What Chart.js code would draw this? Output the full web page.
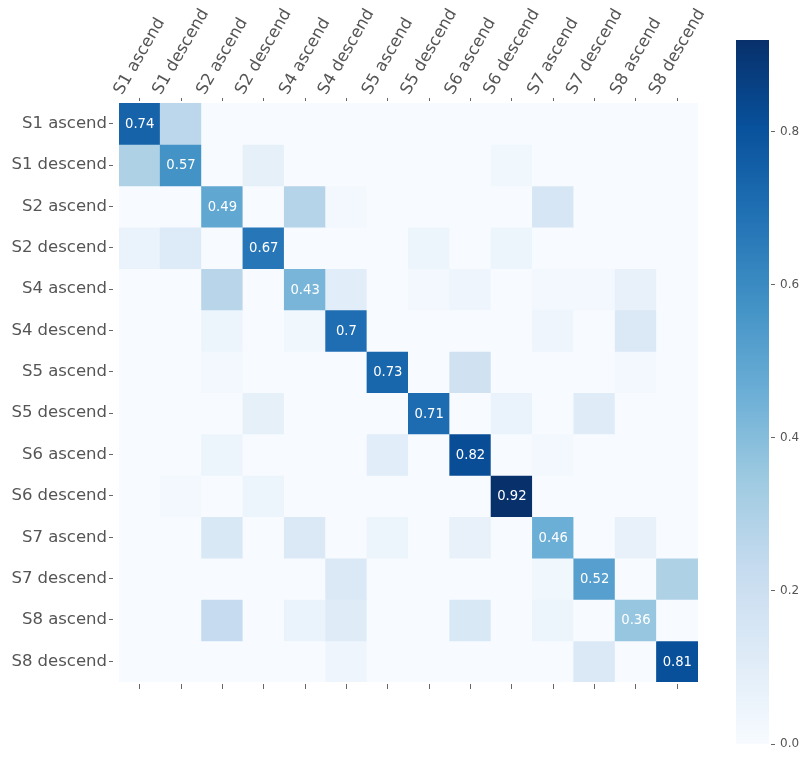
<!DOCTYPE html>
<html lang="en">
<head>
<meta charset="UTF-8">
<title>Confusion matrix</title>
<script src="https://cdn.jsdelivr.net/npm/chart.js"></script>
<style>
  body { margin: 0; background: #fff; }
  #wrap { position: relative; width: 803px; height: 759px; }
  #heatBox { position: absolute; left: 0; top: 0; width: 803px; height: 759px; }
  #barBox { position: absolute; left: 700px; top: 0; width: 103px; height: 759px; }
</style>
</head>
<body>
<div id="wrap">
  <div id="heatBox"><canvas id="heat"></canvas></div>
  <div id="barBox"><canvas id="cbar"></canvas></div>
</div>
<script>
// class names, used for both axes
const classes = ['S1 ascend', 'S1 descend', 'S2 ascend', 'S2 descend', 'S4 ascend', 'S4 descend',
  'S5 ascend', 'S5 descend', 'S6 ascend', 'S6 descend', 'S7 ascend', 'S7 descend', 'S8 ascend', 'S8 descend'];

// rows = true class, columns = predicted class
const matrix = [
  [0.74, 0.26, 0, 0, 0, 0, 0, 0, 0, 0, 0, 0, 0, 0],
  [0.30, 0.57, 0, 0.08, 0, 0, 0, 0, 0, 0.03, 0, 0, 0, 0],
  [0, 0, 0.49, 0, 0.28, 0.02, 0, 0, 0, 0, 0.15, 0, 0, 0],
  [0.06, 0.12, 0, 0.67, 0, 0, 0, 0.05, 0, 0.05, 0, 0, 0, 0],
  [0, 0, 0.27, 0, 0.43, 0.10, 0, 0.02, 0.04, 0, 0.02, 0.02, 0.07, 0],
  [0, 0, 0.05, 0, 0.03, 0.70, 0, 0, 0, 0, 0.04, 0, 0.13, 0],
  [0, 0, 0.02, 0, 0, 0, 0.73, 0, 0.18, 0, 0, 0, 0.02, 0],
  [0, 0, 0, 0.08, 0, 0, 0, 0.71, 0, 0.06, 0, 0.11, 0, 0],
  [0, 0, 0.05, 0, 0, 0, 0.10, 0, 0.82, 0, 0.02, 0, 0, 0],
  [0, 0.02, 0, 0.05, 0, 0, 0, 0, 0, 0.92, 0, 0, 0, 0],
  [0, 0, 0.14, 0, 0.13, 0, 0.05, 0, 0.07, 0, 0.46, 0, 0.07, 0],
  [0, 0, 0, 0, 0, 0.13, 0, 0, 0, 0, 0.03, 0.52, 0, 0.30],
  [0, 0, 0.23, 0, 0.06, 0.11, 0, 0, 0.14, 0, 0.05, 0, 0.36, 0],
  [0, 0, 0, 0, 0, 0.04, 0, 0, 0, 0, 0, 0.13, 0, 0.81]
];

const colorbarTicks = [0, 0.2, 0.4, 0.6, 0.8];
const annotateFrom = 0.35;   // only cells above this get a number
const vmax = Math.max(...matrix.flat());

// matplotlib "Blues"
const blues = [[247,251,255],[222,235,247],[198,219,239],[158,202,225],[107,174,214],
  [66,146,198],[33,113,181],[8,81,156],[8,48,107]];

function bluesColor(t) {
  t = Math.min(1, Math.max(0, t)) * (blues.length - 1);
  const i = Math.min(blues.length - 2, Math.floor(t));
  const f = t - i;
  const a = blues[i], b = blues[i + 1];
  const c = a.map((v, k) => Math.round(v + (b[k] - v) * f));
  return `rgb(${c[0]},${c[1]},${c[2]})`;
}

Chart.defaults.font.family = '"DejaVu Sans", sans-serif';
Chart.defaults.color = '#555';

const tickGrey = '#666';
const cellTicks = s => { s.ticks = classes.map((_, i) => ({ value: i })); };

// background for the matrix area
const areaFill = {
  id: 'areaFill',
  beforeDatasetsDraw(chart) {
    const {ctx, chartArea: a} = chart;
    ctx.save();
    ctx.fillStyle = bluesColor(0);
    ctx.fillRect(a.left, a.top, a.right - a.left, a.bottom - a.top);
    ctx.restore();
  }
};

// numbers in the cells
const cellText = {
  id: 'cellText',
  afterDatasetsDraw(chart) {
    const {ctx, scales: {x, y}} = chart;
    ctx.save();
    ctx.font = '13.2px "DejaVu Sans"';
    ctx.fillStyle = '#fff';
    ctx.textAlign = 'center';
    ctx.textBaseline = 'middle';
    matrix.forEach((row, r) => row.forEach((v, c) => {
      if (v >= annotateFrom) ctx.fillText(String(v), x.getPixelForValue(c), y.getPixelForValue(r) + 1);
    }));
    ctx.restore();
  }
};

// rotated top labels, centred on their ticks like matplotlib's ha='center'
const topLabels = {
  id: 'topLabels',
  afterDraw(chart) {
    const sc = chart.scales.x2;
    const ctx = chart.ctx;
    const ang = Math.PI / 3, lh = 19, base = sc.bottom - 5;
    ctx.save();
    ctx.font = '16.5px "DejaVu Sans"';
    ctx.fillStyle = '#555';
    ctx.textAlign = 'center';
    ctx.textBaseline = 'middle';
    classes.forEach((name, i) => {
      const w = ctx.measureText(name).width;
      const h = w * Math.sin(ang) + lh * Math.cos(ang);
      ctx.save();
      ctx.translate(sc.getPixelForValue(i), base - h / 2);
      ctx.rotate(-ang);
      ctx.fillText(name, 0, 0);
      ctx.restore();
    });
    ctx.restore();
  }
};

const datasets = classes.map((name, r) => ({
  label: name,
  data: matrix[r].map(() => [r - 0.5, r + 0.5]),
  backgroundColor: matrix[r].map(v => bluesColor(v / vmax)),
  borderWidth: 0,
  inflateAmount: 0.5,
  barPercentage: 1,
  categoryPercentage: 1,
  grouped: false
}));

new Chart(document.getElementById('heat'), {
  type: 'bar',
  data: { labels: classes, datasets: datasets },
  options: {
    responsive: true,
    maintainAspectRatio: false,
    animation: false,
    layout: { padding: { left: 0, right: 105, top: 0, bottom: 0 } },
    plugins: { legend: { display: false }, tooltip: { enabled: false } },
    scales: {
      x: {
        type: 'category',
        position: 'bottom',
        ticks: { display: false },
        grid: { drawOnChartArea: false, offset: false, tickLength: 7, tickColor: tickGrey,
                tickBorderDash: [5, 2], tickBorderDashOffset: 5 },
        border: { display: false },
        afterFit: s => { s.height = 77; }
      },
      // top axis only carries the tick marks, labels come from the topLabels plugin
      x2: {
        type: 'linear',
        position: 'top',
        offset: false,
        bounds: 'data',
        min: -0.5,
        max: classes.length - 0.5,
        afterBuildTicks: cellTicks,
        ticks: { display: false },
        grid: { drawOnChartArea: false, offset: false, tickLength: 5, tickColor: tickGrey, tickBorderDash: [3, 2] },
        border: { display: false },
        afterFit: s => { s.height = 103; }
      },
      y: {
        type: 'linear',
        bounds: 'data',
        reverse: true,
        min: -0.5,
        max: classes.length - 0.5,
        afterBuildTicks: cellTicks,
        ticks: { autoSkip: false, padding: 2, color: '#555', font: { size: 16.5 },
                 callback: v => classes[v] },
        grid: { drawOnChartArea: false, tickLength: 10, tickColor: tickGrey, tickBorderDash: [4, 6] },
        border: { display: false },
        afterFit: s => { s.width = 119; }
      }
    }
  },
  plugins: [areaFill, cellText, topLabels]
});

// colour bar
new Chart(document.getElementById('cbar'), {
  type: 'bar',
  data: {
    labels: [''],
    datasets: [{
      data: [[0, vmax]],
      backgroundColor: (c) => {
        const chart = c.chart;
        const a = chart.chartArea;
        if (!a) return bluesColor(0.5);
        const y = chart.scales.y;
        const g = chart.ctx.createLinearGradient(0, y.getPixelForValue(0), 0, y.getPixelForValue(vmax));
        blues.forEach((_, i) => g.addColorStop(i / (blues.length - 1), bluesColor(i / (blues.length - 1))));
        return g;
      },
      borderWidth: 0,
      barPercentage: 1,
      categoryPercentage: 1
    }]
  },
  options: {
    responsive: true,
    maintainAspectRatio: false,
    animation: false,
    layout: { padding: { left: 36, right: 0, top: 40, bottom: 15 } },
    plugins: { legend: { display: false }, tooltip: { enabled: false } },
    scales: {
      x: { display: false },
      y: {
        position: 'right',
        bounds: 'data',
        min: 0,
        max: vmax,
        afterBuildTicks: s => { s.ticks = colorbarTicks.map(v => ({ value: v })); },
        ticks: { autoSkip: false, padding: 5, color: '#555', font: { size: 12 },
                 callback: v => v.toFixed(1) },
        grid: { drawOnChartArea: false, tickLength: 6, tickColor: tickGrey,
                tickBorderDash: [4, 2], tickBorderDashOffset: 4 },
        border: { display: false },
        afterFit: s => { s.width = 34; }
      }
    }
  }
});
</script>
</body>
</html>
